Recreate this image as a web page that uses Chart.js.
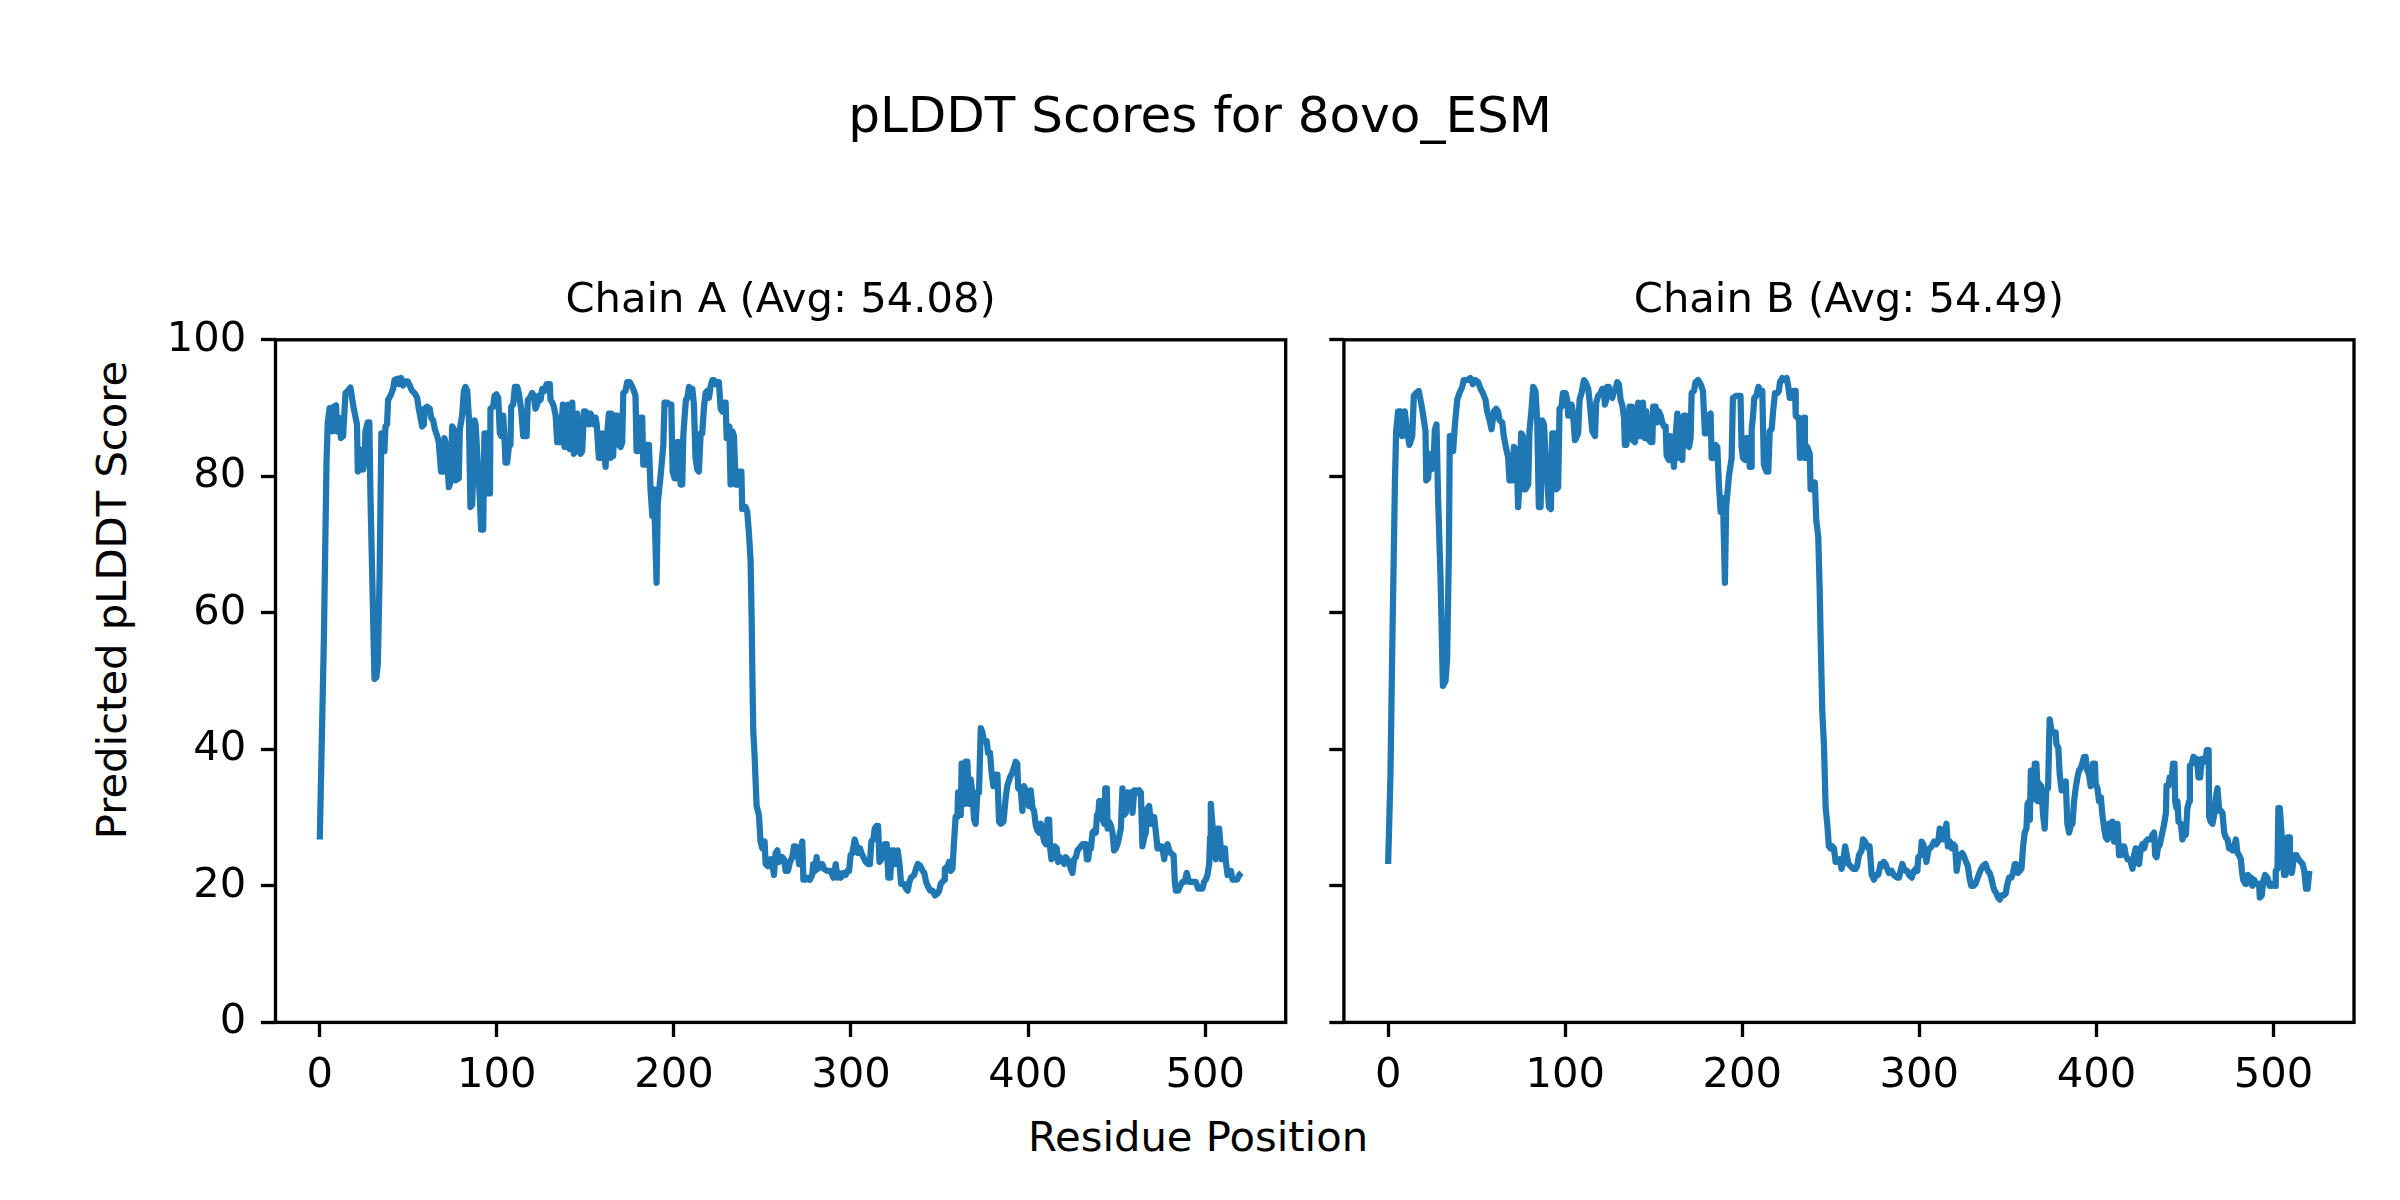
<!DOCTYPE html>
<html>
<head>
<meta charset="utf-8">
<script src="https://cdn.jsdelivr.net/npm/chart.js@4.4.1/dist/chart.umd.min.js"></script>
<style>
  body { margin: 0; background: #fff; }
  #fig { position: relative; width: 2400px; height: 1200px; background: #fff; font-family: 'DejaVu Sans', sans-serif; color: #000; }
  canvas { position: absolute; top: 0; }
  .txt { position: absolute; white-space: nowrap; line-height: 1; }
</style>
</head>
<body>
<div id="fig">
  <div class="txt" id="suptitle" style="left:1200px; top:115px; font-size:50px; transform:translate(-50%,-50%);">pLDDT Scores for 8ovo_ESM</div>
  <div class="txt" id="xlabel" style="left:1198px; top:1137px; font-size:41.7px; transform:translate(-50%,-50%);">Residue Position</div>
  <div class="txt" id="ylabel" style="left:112px; top:600px; font-size:41.7px; transform:translate(-50%,-50%) rotate(-90deg);">Predicted pLDDT Score</div>
  <canvas id="chainA" width="1310" height="1200" style="left:0px"></canvas>
  <canvas id="chainB" width="1090" height="1200" style="left:1310px"></canvas>
</div>
<script>
const chainATitle = 'Chain A (Avg: 54.08)'
const chainBTitle = 'Chain B (Avg: 54.49)'
const xTicks = [0, 100, 200, 300, 400, 500]
const yTicks = [0, 20, 40, 60, 80, 100]

const chainAPos = [0,2.3,3.8,4.5,5.6,7,7.9,9.2,9.8,10.7,12,13.2,14.5,15.8,17.3,19.2,21,21.5,22.6,23.4,24.5,25.4,25.8,27.1,28,28.6,30.9,32,32.8,33.8,34.8,35.8,36.5,37.1,38,38.6,39.9,41.4,42.2,43.7,44.6,45.9,47.1,48.4,49.7,50.8,52.2,53.5,55,55.9,56.9,57.8,58.8,59.1,60.6,62.1,62.9,64,65,66.3,67.2,68.5,69.7,70.4,71.6,72.9,73.8,74.8,75.7,76.7,78.5,79.1,80.4,81.4,82.3,83.3,84.2,85.1,86.1,87.4,88,89,90.4,91.1,92.3,93,94.2,95,96.1,96.4,97.9,98.7,99.8,100.8,101.7,102.4,103.6,104.3,104.9,105.8,106.8,107.7,108.1,109.2,110.2,111.5,112.4,113.7,114.9,116.8,117.5,118.6,120,120.9,121.8,122.8,123.7,124.7,125.6,126.9,128.1,129.9,130.3,131.3,132.2,133.2,134.1,135.1,136,136.3,137.3,138.2,139.4,140.3,141.2,142.6,143.5,144.4,145.4,146.3,147.3,148.2,149.2,150.1,151.1,152,152.9,153.9,154.8,155.8,156.4,157.6,158.6,159.5,160.5,161.4,162.3,163.3,164.2,164.6,165.7,166.5,168,168.9,169.9,170.8,171.4,172.7,173.6,175.1,176.5,177.4,178.3,178.9,179.7,180.8,182.1,182.7,184,184.9,185.9,186.8,
  187.8,188.7,190.2,190.9,192.5,194,194.7,196.2,197.7,198.5,199.3,200.4,201.5,201.9,203,203.8,204.7,205.3,206,206.8,207.6,208.5,209.4,210.4,211.3,212.2,213.2,214.1,215.1,216,217,217.9,218.8,219.8,220.7,221.7,222.6,223.6,224.5,225.4,226.4,227.3,228.3,229.2,229.8,230.5,231.3,232,233,233.9,234.9,236.2,236.7,238.1,238.6,240.5,241.4,242.4,243.3,243.9,244.4,244.8,245.6,246.7,248,248.9,249.9,251.2,251.8,253.1,254.6,255.6,256.5,257.4,258.4,259.3,260.3,261.2,262.2,263.1,264.4,265.5,266.9,267.8,268.8,269.7,270.7,271.6,272.5,273.1,274.4,275.4,276.8,278.1,278.7,279.7,280.6,281.4,282.9,283.8,284.7,286.6,288.5,290.1,291.4,292.3,293.2,294.2,295.7,297,297.9,298.9,299.8,300.8,302.1,303.2,304,305.1,305.9,307,308.3,309.6,310.7,311.5,312.6,313.4,314.5,315.3,316.1,317.2,318.3,319.1,320.2,321.1,322.2,323,324.2,324.9,326.4,327.4,328.3,329.8,331.1,332,333,333.9,335.7,336.7,337.7,339.2,340.5,341.4,342.4,343.3,344.8,346.1,347.5,348.9,349.8,350.7,351.7,352.6,353,354.6,355.4,356.3,357.3,358.2,359.1,360.1,360.5,361.6,362,362.5,363.5,364.2,364.8,365.7,366.7,367.6,368.6,369.5,370.4,371.4,372.3,373.3,374.2,375.1,376.6,377.4,378.5,379.3,380.4,381.7,382.7,383.6,384.6,
  386.1,387.4,388.3,389.8,391.1,392,393,393.9,394.4,395.9,396.8,397.7,398.7,399.6,400.6,401.5,402.5,403.4,404.4,405.3,406.2,407.2,408.1,409.1,410,411,411.9,412.4,413.2,414.3,415.1,416.2,417,418.1,419.4,420.4,421.3,422.2,423.2,424.1,425.1,426,427,427.9,428.9,429.8,430.8,431.7,432.6,433.2,434,434.5,435.5,436.4,437.4,438.3,438.9,439.6,440.2,441.1,442.1,443,443.6,444.5,444.9,445.8,446.8,447.7,448.6,449.6,450.5,451.4,452.4,453.3,454.3,455.2,456.2,457.1,458,459,460,460.9,461.8,462.8,463.7,464.6,465.6,466.5,467.5,468.4,469.4,470.3,471.2,472.2,473.1,474.1,475,475.9,476.9,477.8,478.8,479.7,480.6,482.2,482.9,483.5,484.8,485.9,487.2,488.5,489.6,490.9,491.9,493.4,494.7,496,497.2,498.5,499.4,500.4,501.3,502.3,502.8,503.2,504.1,505.1,506,506.9,507.9,508.5,509.3,510.4,511.2,511.7,512.7,513.6,514.6,515.5,516.5,518,519.3,520.6]
const chainAScore = [26.8,55.9,82,87.9,90,86.6,90.2,90.4,86.6,88.6,85.6,85.9,92.2,92.5,93,89.9,87.6,80.7,81,83.9,81,82.7,86.6,87.9,87.9,77.5,50.3,50.6,52.6,65.7,86.3,86.3,83.7,87.3,87.6,91.2,91.8,92.8,94.1,94.3,93.5,94.4,93.3,93.9,93.9,93.3,92.5,92.2,91.5,89.9,88.6,87.3,87.6,89.9,90.2,89.9,88.6,88.2,86.9,85.9,85,80.7,80.7,85.6,84.3,78.4,79.1,87.3,86.9,79.4,79.7,86.9,88.9,92.5,93.1,92.5,88.6,75.5,75.8,88.2,87.6,83,76.8,72.2,72.2,86.3,86.3,77.5,77.5,89.9,90.2,91.8,92,91.5,86.3,85.9,88.9,85.6,82,82,84.3,84.6,90.2,90.5,93.1,93.1,92.2,89.9,85.9,85.9,91.2,91.5,92.2,91.8,89.9,90.5,91.8,91.2,92.8,92.5,93.5,93.5,91.2,90.8,90.2,88.9,85,85,88.6,86.6,90.5,84.3,84.3,90.5,84,90.8,83.3,84,89.2,84,83.3,83.7,89.5,89.5,89.2,87.6,89.2,88.6,87.6,88.6,87.6,82.7,82.7,86.3,83.7,81.4,86.3,89.2,82.7,89.2,83,88.9,88.9,84.6,84.3,85,92.2,92.5,93.8,93.8,93.1,92.5,91.8,83.7,83.7,88.6,88.6,81.7,81.7,84.6,84.6,78.1,
  74.2,78.1,64.4,76.1,80.1,84.6,90.8,90.8,90.5,90.5,80.7,79.7,79.7,85,85,78.8,78.8,85.9,88.6,91.2,91.5,93.1,92.8,92.8,90.5,82.7,81,80.7,86.3,86.3,90.2,92.2,92.5,91.5,93.1,94.1,94.1,93.5,93.8,93.8,89.9,89.5,90.8,90.8,85.6,85.6,87.3,78.8,86.6,85.9,78.8,78.8,80.7,80.7,75.2,75.5,74.8,71.6,67.6,59.2,49.3,42.8,38.9,31.7,30.4,26.5,25.5,26.5,23.2,22.9,23.9,23.2,21.6,24.8,25.2,23.5,24.2,24.2,23.9,22.2,22.2,23.5,24.2,25.8,25.8,25.2,23.2,25.2,26.5,20.9,20.9,21.2,20.9,21.6,23.2,22.2,24.2,22.5,23.2,23.2,22.5,22.2,22.2,21.2,23.2,21.2,21.9,21.2,21.9,21.6,22.2,22.2,24.5,24.8,26.8,25.8,24.8,25.5,24.8,24.2,23.5,23.2,23.2,26.5,26.8,28.4,28.8,28.8,23.5,23.9,24.8,26.1,26.1,21.2,21.2,25.2,25.2,23.2,25.2,23.2,20.3,20.3,19.6,19.3,20.6,21.2,21.6,22.5,23.2,22.9,22.2,21.9,20.6,20,19.3,19.3,18.6,18.9,19.3,20.3,20.6,20.9,22.5,22.9,23.5,22.2,22.5,26.5,30.1,30.1,33.7,33.7,30.4,37.9,37.9,32,38.2,38.2,32,35.6,33.7,29.7,29.1,33.7,33.7,43.1,42.5,41.2,41.2,39.5,39.5,36.9,34.6,36.3,36.3,29.4,29.1,
  29.4,33,34.7,35.9,36.6,37.3,38.2,37.9,34.3,34,31,34.6,34,33.7,31.7,34,31.4,31,28.8,28.1,27.8,29.1,27.8,26.5,26.1,29.7,29.7,25.8,23.9,24.2,25.8,25.5,23.5,24.2,23.9,23.2,24.2,23.9,23.5,22.5,21.9,23.9,24.2,25.2,25.5,25.8,26.1,26.1,26.1,23.9,23.9,25.2,25.5,27.8,28.1,27.8,30.4,30.4,32.4,32.4,29.7,29.1,34.3,34.3,28.4,29.4,28.8,27.8,25.2,25.5,26.1,27.1,28.4,34.3,30.4,30.7,33.7,33,33.7,30.7,34,34,33.7,34,33.7,25.8,27.1,27.8,31.4,31.7,29.1,29.7,30.1,27.8,25.5,25.5,25.8,25.5,23.9,25.8,26.1,25.2,24.8,24.5,20.6,19.3,19.3,20,20.6,20.6,21.9,20.6,20.6,20.6,20.6,19.6,19.6,19.6,20.6,20.9,21.6,23.2,27.1,32,29.1,26.1,23.9,28.4,28.4,26.5,23.9,25.5,25.5,23.5,21.6,22.2,22.2,20.9,20.9,20.9,21.6,21.9]

const chainBPos = [0,1.3,2.3,3.8,4.5,5.6,7,7.9,9.4,10.7,12,13.6,14.5,15.8,17.3,19.2,21.1,21.5,22.6,23.4,24.5,25.6,26.4,27.3,28.2,29.6,30.9,32.4,33.3,34.3,34.8,36.2,36.7,37.7,39,40.3,41.8,42.7,44.6,46.5,47.8,49.3,50.8,52.2,53.5,55,55.9,57.3,58.4,59.7,61,62.1,62.9,64.4,65.3,66.7,67.8,68.5,70.1,71,71.9,72.9,73.4,74.2,75.1,76.1,76.6,77.6,79.1,79.8,81,81.9,83.2,84.2,85.1,86.1,87,88,88.9,89.8,90.8,91.9,92.7,94.2,94.9,96,96.8,97.9,98.7,100.2,101.1,101.7,102.4,103.6,104.3,105.5,106.2,107.3,108.1,109.2,110.6,111.5,113,113.7,115.3,116.8,117.5,118.6,120,120.9,121.8,122.4,123.2,123.7,124.7,125.6,126.6,127.5,128.4,129.4,130.3,131.3,132.2,133.2,133.7,134.5,135.6,136.3,137.5,138.2,139.4,140.3,141.2,142,143.1,143.9,145,145.8,147.3,148.2,149.2,149.7,151.1,152,152.9,153.9,154.8,155.8,156.7,157.3,158.6,159.5,160.5,161.4,162.3,163.3,164.2,165.2,166.1,167,168,168.9,169.9,170.8,171.4,172.7,173.6,175.1,176.5,177.8,178.9,179.7,180.8,182.1,182.7,184,184.9,185.9,186.8,
  187.8,189.1,190.2,190.9,192.5,194,194.7,196.6,199,199.6,200.4,201.5,202.3,203.4,204.2,205,205.3,206,206.8,208,209.1,210.4,211.3,212.2,213.6,214.7,215.5,216.6,217.4,218.5,219.8,220.7,221.3,222.6,223.9,225.1,226,226.8,227.9,228.6,229.8,230.2,231.1,232,232.6,233.5,234.3,235,235.4,236.2,236.7,238.1,238.6,239.9,241,241.8,242.9,243.7,244.4,245.2,246.1,247.1,248,248.9,249.9,250.8,251.8,252.7,253.9,255,256.1,256.9,258.1,258.8,260,261.2,262.5,264,264.9,265.9,267.4,268.2,269.3,270,271.2,271.9,273.1,274.4,275.4,276.8,278.1,279,279.9,280.9,281.9,282.8,284.3,285.6,287.5,288.5,289.4,290.4,291.3,292.3,293.2,294.2,295.7,297,297.9,298.9,299.4,300.8,301.3,302.1,303.2,304,305.1,305.9,307,308.3,309.6,310.7,311.5,312.6,313.4,314.5,315.3,316.1,317.2,318.3,319.1,320.2,321.1,322.2,323,324.2,324.9,326.4,327.4,328.3,329.3,330.6,331.7,333,334.4,335.9,337.4,338.7,339.7,340.6,341.6,342.5,343.5,344.4,345.4,346.3,347.6,348.8,349.5,350.7,352,352.9,353.9,354.8,355.8,356.7,357.7,358.6,359.5,360.5,361.1,362,362.4,363,363.9,364.6,365.2,366.1,367.1,367.6,368.9,369.9,370.8,371.7,372.7,373.6,374.6,375.5,377,377.4,378.5,379.3,380.4,381.7,382.7,383.6,384.6,
  385.5,386.5,387.4,388.3,389.3,390.2,391.1,392,393,393.9,394.9,395.8,396.8,397.7,398.1,399.2,399.6,400.6,401.5,402.5,403.4,404.4,405.3,406.2,407.2,408.1,409.1,410,411,411.9,412.8,413.8,414.7,415.7,416.6,417.6,418.5,419.4,420.4,421.3,422.2,423.2,424.1,425.1,426,427,427.9,428.9,429.8,430.8,431.7,432.6,433.2,434,434.7,435.9,437,438.3,439.3,439.6,440.8,441.4,442.6,443.3,444.1,444.5,445.2,445.8,446.4,447.7,448.6,449.6,450.5,451.4,452.4,452.8,453.9,454.8,455.8,456.7,457.7,458.6,459.6,460.5,461.5,462.4,463.4,463.7,464.6,465.6,466.5,467.5,468.4,469.4,470.3,471.2,472.2,473.1,474.1,475,475.9,476.9,477.8,478.8,479.7,480.6,481.6,482.2,482.9,484.1,484.8,485.6,486.7,487.4,488.1,489.1,490.1,491,491.9,492.3,493.4,494.2,495.3,496.6,497.9,499,499.8,500.9,501.3,502.3,502.8,503.6,504.3,505.1,506,506.9,507.9,508.9,509.3,510.4,511.2,512.2,513,514.1,515.5,516.5,517.4,518.4,519.3,520.3]
const chainBScore = [23.2,36.3,54.6,78.8,86.6,89.5,89.5,85.9,89.5,86.6,84.6,85.9,91.8,92.2,92.5,89.9,86.6,79.4,79.7,83.3,81,82,86.9,87.6,76.8,65,49.3,50,53.3,69,85.9,85.9,83.7,87.6,91.2,92.2,93.1,94.1,94.1,94.4,93.5,94.1,93.8,92.8,92.2,91.2,89.5,88.2,86.9,89.5,89.9,89.5,88.2,87.9,85.9,84,82.7,79.4,79.4,84.3,84,80.1,75.5,79.1,86.3,85.9,78.1,78.1,78.8,86.6,89.9,93.1,92.5,87.9,75.5,75.5,88.2,87.6,83.3,79.4,75.5,75.2,86.3,86.3,78.1,78.4,89.9,90.2,92.2,92.2,91.2,88.9,88.9,90.5,89.5,85.3,85.6,86.3,91.2,92.2,94.1,93.8,92.8,91.2,86.6,85.9,90.8,91.8,92.2,92.8,92.8,90.5,91.2,93.1,93.1,91.8,91.5,92.5,92.8,93.8,93.5,91.2,90.5,88.6,84.6,84.6,86.9,90.2,90.2,85.3,85,89.2,90.8,85.9,85.9,90.8,85.6,89.5,85.3,85,85,90.2,90.2,87.9,89.5,88.9,87.9,87.3,87.3,83,82.4,85.9,84.3,81.4,85.6,89.2,82.7,88.6,82.4,88.9,88.9,85,84.3,85.6,92.2,92.5,93.8,94.1,93.5,92.5,86.3,86.3,88.9,89.2,82.7,82.7,84.6,84.3,78.8,
  74.8,76.8,64.4,75.5,80.1,82.7,91.5,91.8,91.8,84.3,82.7,82.4,85.6,85.6,81.4,81.4,86.9,88.6,91.5,91.8,93.1,92.5,92.5,81.7,80.7,80.7,86.6,86.9,89.5,92.2,92.2,92.5,93.8,94.4,94.1,94.4,93.1,91.5,91.5,92.5,92.5,88.9,88.6,88.6,82.7,84,87.9,88.6,82.7,82.7,84.3,83.3,78.1,78.1,79.1,73.5,71.2,63.7,54.6,45.4,40.8,31.4,29.1,25.8,25.5,25.8,25.5,23.5,23.5,23.9,22.5,23.5,25.8,24.8,23.2,22.9,22.5,22.5,22.9,24.5,25.2,26.8,26.5,26.1,25.5,25.8,21.6,20.9,21.6,21.6,23.2,22.9,23.5,23.2,22.5,21.9,22.2,21.6,21.2,21.2,22.2,23.2,22.5,22.2,22.2,21.6,21.2,22.2,22.5,22.2,24.2,24.5,26.5,26.1,25.2,23.5,25.2,25.5,25.8,26.5,26.1,26.5,28.4,28.1,26.8,28.1,29.1,25.8,26.5,25.5,26.1,25.8,22.2,24.2,24.5,24.8,24.5,23.5,22.9,21.2,20,20,20.3,21.2,22.2,22.9,23.2,22.2,21.9,21.2,20,19.3,18.9,18.3,18,18.6,18.6,18.9,20,21.2,21.2,21.9,23.2,23.2,21.9,22.2,22.5,25.8,27.8,28.4,32,32.4,29.7,36.9,36.9,32.7,37.9,37.9,32.4,35,34.6,30.4,28.4,34,34.3,44.4,42.8,42.5,42.5,40.8,40.2,36.3,34,35,35.3,29.1,27.8,
  28.8,29.1,32.4,34.3,35.9,36.9,37.2,37.9,38.9,38.9,36.9,36.3,34.6,36.3,37.9,37.9,35,34.3,32.4,33,30.4,28.4,27.1,26.8,29.1,27.1,29.4,26.5,29.1,29.1,24.5,24.5,25.8,25.8,24.5,23.9,23.9,23.5,22.5,24.5,25.5,25.2,23.2,25.5,26.1,25.5,26.5,26.8,26.8,26.8,27.5,27.8,24.5,24.2,25.5,26.1,27.5,29.1,30.7,34.7,34.7,35.9,35.9,37.9,37.9,32.4,31.4,32.4,29.4,29.1,26.8,27.8,27.5,31.4,32.4,37.6,37.9,38.9,38.6,38.6,35.9,35.9,38.6,38.2,38.2,39.9,39.9,30.1,29.4,29.1,30.4,33,34.3,31,31,30.7,27.8,27.1,26.8,25.5,25.5,25.2,25.8,26.8,24.8,24.5,23.9,22.2,20.9,20.3,20.3,21.6,21.2,21.2,20,20.9,20.3,20.3,20.3,18.3,18.6,20.6,21.6,21.2,20,20,20.3,20,22.2,22.5,31.4,31.4,28.8,25.2,21.6,21.6,27.1,27.1,24.8,21.9,23.5,24.5,24.5,23.9,23.5,23.2,22.2,19.6,19.6,22.2]

const FONT = 'DejaVu Sans'
const PT = 300 / 72

const frame = {
  id: 'frame',
  afterDraw(chart) {
    const a = chart.chartArea
    const c = chart.ctx
    c.save()
    c.strokeStyle = '#000'
    c.lineWidth = 0.8 * PT
    c.strokeRect(a.left, a.top, a.right - a.left, a.bottom - a.top)
    c.restore()
  }
}

const makeChart = (id, title, pos, score, yWidth, padRight, showYLabels) => {
  const points = pos.map((x, i) => ({ x: x, y: score[i] }))
  new Chart(document.getElementById(id), {
    type: 'line',
    data: {
      datasets: [{
        data: points,
        borderColor: '#1f77b4',
        borderWidth: 1.5 * PT,
        pointRadius: 0,
        tension: 0,
        fill: false,
        borderJoinStyle: 'round',
        borderCapStyle: 'butt'
      }]
    },
    options: {
      responsive: false,
      devicePixelRatio: 1,
      animation: false,
      events: [],
      layout: { padding: { top: 276.5, left: 0, right: padRight, bottom: 0 } },
      plugins: {
        legend: { display: false },
        tooltip: { enabled: false },
        title: {
          display: true,
          fullSize: false,
          text: title,
          color: '#000',
          font: { family: FONT, size: 10 * PT, weight: 'normal', lineHeight: 1.2 },
          padding: { top: 0, bottom: 13.3 }
        }
      },
      scales: {
        x: {
          type: 'linear',
          min: -25,
          max: 545.5,
          afterBuildTicks: s => { s.ticks = xTicks.map(v => ({ value: v })) },
          afterFit: s => { s.height = 177.6 },
          border: { display: false },
          grid: { drawOnChartArea: false, drawTicks: true, tickLength: 3.5 * PT, tickWidth: 0.8 * PT, tickColor: '#000' },
          ticks: { color: '#000', font: { family: FONT, size: 10 * PT }, padding: 3.5 * PT, maxRotation: 0, autoSkip: false }
        },
        y: {
          min: 0,
          max: 100,
          afterBuildTicks: s => { s.ticks = yTicks.map(v => ({ value: v })) },
          afterFit: s => { s.width = yWidth },
          border: { display: false },
          grid: { drawOnChartArea: false, drawTicks: true, tickLength: 3.5 * PT, tickWidth: 0.8 * PT, tickColor: '#000' },
          ticks: {
            color: '#000',
            font: { family: FONT, size: 10 * PT },
            padding: 3.5 * PT,
            autoSkip: false,
            callback: v => showYLabels ? v : ''
          }
        }
      }
    },
    plugins: [frame]
  })
}

makeChart('chainA', chainATitle, chainAPos, chainAScore, 275.5, 24.3, true)
makeChart('chainB', chainBTitle, chainBPos, chainBScore, 33.9, 46, false)
</script>
</body>
</html>
